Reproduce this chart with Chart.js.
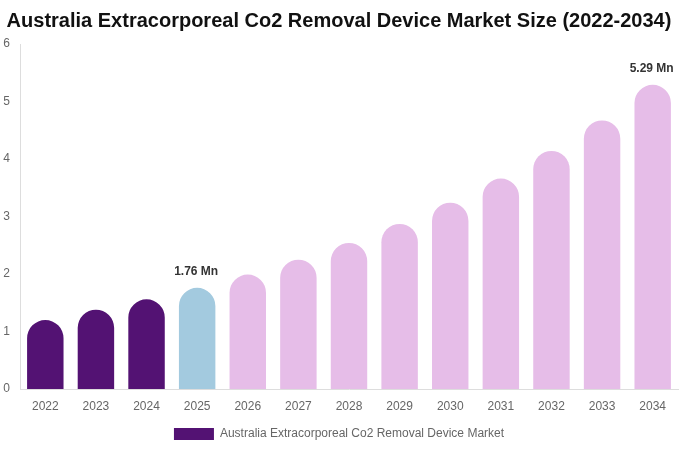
<!DOCTYPE html>
<html>
<head>
<meta charset="utf-8">
<script src="https://cdn.jsdelivr.net/npm/chart.js@4"></script>
<style>
  html, body { margin: 0; padding: 0; background: #fff; }
  #wrap { width: 680px; height: 450px; }
</style>
</head>
<body>
<div id="wrap"><canvas id="marketChart" width="680" height="450"></canvas></div>
<script>
// Market size values (USD Mn)
const years = ['2022', '2023', '2024', '2025', '2026', '2027', '2028', '2029', '2030', '2031', '2032', '2033', '2034'];
const marketSize = [1.20, 1.38, 1.56, 1.76, 1.99, 2.25, 2.54, 2.87, 3.24, 3.66, 4.14, 4.67, 5.29];
const yTicks = [0, 1, 2, 3, 4, 5, 6];
const labelledYears = ['2025', '2034'];

const historicColor = '#531273';
const currentColor = '#a3cadf';
const forecastColor = '#e6bde8';

function barColor(i) {
    if (i === undefined) return historicColor;
    if (i < 3) return historicColor;
    if (i === 3) return currentColor;
    return forecastColor;
}

// Draw "x.xx Mn" above selected bars
const valueLabels = {
    id: 'valueLabels',
    afterDatasetsDraw: function(chart) {
        const ctx = chart.ctx;
        const meta = chart.getDatasetMeta(0);
        ctx.save();
        ctx.font = 'bold 12px "Liberation Sans", Arial, sans-serif';
        ctx.fillStyle = '#333';
        ctx.textAlign = 'center';
        ctx.textBaseline = 'bottom';
        labelledYears.forEach(function(y) {
            const i = years.indexOf(y);
            const bar = meta.data[i];
            ctx.fillText(marketSize[i].toFixed(2) + ' Mn', bar.x - 1, bar.y - 10);
        });
        ctx.restore();
    }
};

new Chart(document.getElementById('marketChart').getContext('2d'), {
    type: 'bar',
    data: {
        labels: years,
        datasets: [{
            label: 'Australia Extracorporeal Co2 Removal Device Market',
            data: marketSize,
            backgroundColor: function(c) { return barColor(c.dataIndex); },
            borderRadius: { topLeft: 30, topRight: 30 },
            borderSkipped: 'bottom',
            barPercentage: 0.72,
            categoryPercentage: 1.0
        }]
    },
    options: {
        responsive: false,
        animation: false,
        devicePixelRatio: 1,
        layout: { padding: { left: 0, right: 2, top: 0, bottom: 0 } },
        plugins: {
            title: {
                display: true,
                text: 'Australia Extracorporeal Co2 Removal Device Market Size (2022-2034)',
                color: '#111',
                font: { family: '"Liberation Sans", Arial, sans-serif', size: 20, weight: 'bold' },
                padding: { top: 9, bottom: 11 }
            },
            legend: {
                position: 'bottom',
                labels: {
                    boxWidth: 40,
                    boxHeight: 12,
                    color: '#666',
                    font: { family: '"Liberation Sans", Arial, sans-serif', size: 12 },
                    padding: 10
                }
            },
            tooltip: { enabled: false }
        },
        scales: {
            y: {
                min: 0,
                max: 6,
                afterBuildTicks: function(scale) {
                    scale.ticks = yTicks.map(function(v) { return { value: v }; });
                },
                afterFit: function(scale) { scale.width = 20; },
                grid: { display: false, drawTicks: false },
                border: { display: true, color: '#ddd' },
                ticks: {
                    color: '#666',
                    font: { family: '"Liberation Sans", Arial, sans-serif', size: 12 },
                    padding: 10
                }
            },
            x: {
                afterFit: function(scale) { scale.height = 29; },
                grid: { display: false, drawTicks: false },
                border: { display: true, color: '#ddd' },
                ticks: {
                    color: '#666',
                    font: { family: '"Liberation Sans", Arial, sans-serif', size: 12 },
                    padding: 10
                }
            }
        }
    },
    plugins: [valueLabels]
});
</script>
</body>
</html>
